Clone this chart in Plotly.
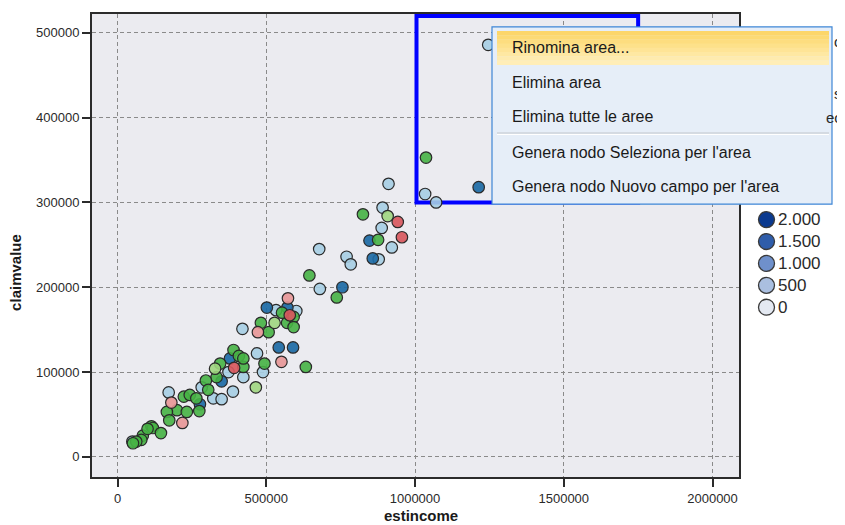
import plotly.graph_objects as go

# ---------------- data ----------------
estincome = [
    1246000, 1034000, 1071000, 911000, 891000, 888000, 922000, 678000, 770000, 784000,
    878000, 680000, 533000, 601000, 420000, 469000, 489000, 423000, 373000, 388000,
    283000, 322000, 350000, 172000, 50000,
    1214000, 847000, 858000, 756000, 502000, 571000, 542000, 590000, 378000, 350000, 277000,
    1037000, 825000, 876000, 645000, 737000, 633000, 482000, 570000, 592000, 592000,
    553000, 508000, 494000, 390000, 408000, 423000, 423000, 345000, 333000, 297000,
    305000, 275000, 223000, 243000, 265000, 200000, 233000, 166000, 174000, 114000,
    119000, 146000, 85000, 80000, 63000, 52000, 101000,
    908000, 528000, 465000, 328000,
    573000, 472000, 551000, 181000, 218000,
    942000, 956000, 579000, 392000,
]
claimvalue = [
    486000, 310000, 300000, 322000, 294000, 270000, 247000, 245000, 236000, 227000,
    233000, 198000, 173000, 172000, 151000, 122000, 100000, 94000, 100000, 77000,
    82000, 69000, 68000, 76000, 18000,
    318000, 255000, 234000, 200000, 176000, 176000, 129000, 129000, 116000, 89000, 62000,
    353000, 286000, 256000, 214000, 188000, 106000, 158000, 158000, 165000, 153000,
    170000, 147000, 110000, 126000, 119000, 106000, 116000, 110000, 94000, 90000,
    79000, 54000, 71000, 73000, 69000, 55000, 53000, 53000, 43000, 36000,
    34000, 28000, 25000, 20000, 18000, 16000, 33000,
    284000, 158000, 82000, 104000,
    187000, 147000, 112000, 64000, 40000,
    277000, 259000, 167000, 105000,
]
group = (
    ["light blue"] * 25
    + ["dark blue"] * 11
    + ["green"] * 37
    + ["light green"] * 4
    + ["pink"] * 5
    + ["red"] * 4
)

x_ticks = [0, 500000, 1000000, 1500000, 2000000]
y_ticks = [0, 100000, 200000, 300000, 400000, 500000]

legend_labels = ["2.000", "1.500", "1.000", "500", "0"]
menu_items = [
    "Rinomina area...",
    "Elimina area",
    "Elimina tutte le aree",
    "Genera nodo Seleziona per l'area",
    "Genera nodo Nuovo campo per l'area",
]

# selected area (data coordinates)
area_x = [1005000, 1750000]
area_y = [300000, 520000]

# ---------------- styling ----------------
GROUP_COLORS = {
    "light blue": "rgba(166,206,227,0.9)",
    "dark blue": "rgba(28,106,165,0.92)",
    "green": "rgba(70,178,68,0.9)",
    "light green": "rgba(160,214,128,0.9)",
    "pink": "rgba(232,150,150,0.9)",
    "red": "rgba(216,88,94,0.92)",
}
LEGEND_COLORS = ["#0B3A8F", "#2F5DAA", "#6F90CB", "#AABFE0", "#E4E9F2"]

# the page body has an 8px margin: figure sits at (8, 8) inside the window
OFF = 8
W, H = 845 - OFF, 525 - OFF
# plot-area edges in window pixels
L, R, T, B = 92, 739, 12, 477


def px(x):
    return (x - L) / (R - L)


def py(y):
    return (B - y) / (B - T)


FONT = "Liberation Sans, Arial, sans-serif"

fig = go.Figure()
fig.add_trace(
    go.Scatter(
        x=estincome,
        y=claimvalue,
        mode="markers",
        marker=dict(
            size=11.5,
            color=[GROUP_COLORS[g] for g in group],
            line=dict(color="#2a2a2a", width=1.2),
        ),
        showlegend=False,
        hoverinfo="skip",
    )
)

shapes = []
shapes.append(
    dict(
        type="rect", xref="x", yref="y",
        x0=area_x[0], x1=area_x[1], y0=area_y[0], y1=area_y[1],
        line=dict(color="#0000FF", width=4), fillcolor="rgba(0,0,0,0)",
        layer="between",
    )
)

# legend circles
leg_cx = 766.5
leg_cy = [218.5, 240.5, 262.5, 284.5, 306.5]
rad = 8
for cy, col in zip(leg_cy, LEGEND_COLORS):
    shapes.append(
        dict(
            type="circle", xref="paper", yref="paper",
            x0=px(leg_cx - rad), x1=px(leg_cx + rad),
            y0=py(cy + rad), y1=py(cy - rad),
            fillcolor=col, line=dict(color="#3a3a3a", width=1.3), layer="above",
        )
    )

# context menu
mx0, mx1, my0, my1 = 492, 832, 25, 203
shapes.append(
    dict(
        type="rect", xref="paper", yref="paper",
        x0=px(mx0), x1=px(mx1), y0=py(my1), y1=py(my0),
        fillcolor="#E6EEF8", line=dict(color="#3E86D6", width=1.2), layer="above",
    )
)
hx0, hx1, hy0, hy1 = 497, 829, 29, 63
grad = ["#FCD66A", "#FCDA74", "#FDDD7F", "#FDE18A", "#FEE496", "#FEE8A2", "#FEEBAE", "#FFEEB8"]
n = len(grad)
band = (hy1 - hy0) / n
for i, c in enumerate(grad):
    shapes.append(
        dict(
            type="rect", xref="paper", yref="paper",
            x0=px(hx0), x1=px(hx1),
            y0=py(hy0 + (i + 1) * band + 0.3), y1=py(hy0 + i * band),
            fillcolor=c, line=dict(width=0), layer="above",
        )
    )
shapes.append(
    dict(type="line", xref="paper", yref="paper",
         x0=px(497), x1=px(829), y0=py(131.5), y1=py(131.5),
         line=dict(color="#C2C6CC", width=1.2), layer="above")
)
shapes.append(
    dict(type="line", xref="paper", yref="paper",
         x0=px(497), x1=px(829), y0=py(133), y1=py(133),
         line=dict(color="#FFFFFF", width=1), layer="above")
)

annotations = []
item_y = [46, 81, 115, 151, 185]
for txt, yy in zip(menu_items, item_y):
    annotations.append(
        dict(text=txt, xref="paper", yref="paper", x=px(510), y=py(yy),
             xanchor="left", yanchor="middle", showarrow=False,
             font=dict(family=FONT, size=16, color="#1a1a1a"))
    )
for lab, cy in zip(legend_labels, leg_cy):
    annotations.append(
        dict(text=lab, xref="paper", yref="paper", x=px(776), y=py(cy),
             xanchor="left", yanchor="middle", showarrow=False,
             font=dict(family=FONT, size=17, color="#2a2a2a"))
    )
# fragments of the legend title peeking out on the right of the menu
for frag, yy in [("o", 40), ("s", 92), ("ec", 116)]:
    annotations.append(
        dict(text=frag, xref="paper", yref="paper", x=px(844), y=py(yy),
             xanchor="right", yanchor="middle", showarrow=False,
             font=dict(family=FONT, size=15, color="#2a2a2a"))
    )
annotations.append(
    dict(text="<b>estincome</b>", xref="paper", yref="paper", x=px(421), y=py(516),
         xanchor="center", yanchor="middle", showarrow=False,
         font=dict(family=FONT, size=15, color="#1a1a1a"))
)
annotations.append(
    dict(text="<b>claimvalue</b>", xref="paper", yref="paper", x=px(16), y=py(272),
         xanchor="center", yanchor="middle", showarrow=False, textangle=-90,
         font=dict(family=FONT, size=15, color="#1a1a1a"))
)

axis_common = dict(
    showline=True, linecolor="#2b2b2b", linewidth=2, mirror=True,
    ticks="outside", ticklen=8, tickcolor="#2b2b2b", tickwidth=1.5,
    showgrid=True, gridcolor="#8a8a8a", gridwidth=1, griddash="4px,3px",
    zeroline=False, tickfont=dict(family=FONT, size=13, color="#2a2a2a"),
)

fig.update_layout(
    width=W, height=H,
    margin=dict(l=L - OFF, r=W - (R - OFF), t=T - OFF, b=H - (B - OFF), pad=0),
    paper_bgcolor="white",
    plot_bgcolor="#EBEBF0",
    xaxis=dict(range=[-85700, 2089000], tickvals=x_ticks,
               ticktext=[str(v) for v in x_ticks], **axis_common),
    yaxis=dict(range=[-23800, 522300], tickvals=y_ticks,
               ticktext=[str(v) for v in y_ticks], **axis_common),
    shapes=shapes,
    annotations=annotations,
    showlegend=False,
)

fig.write_html("out.html")
